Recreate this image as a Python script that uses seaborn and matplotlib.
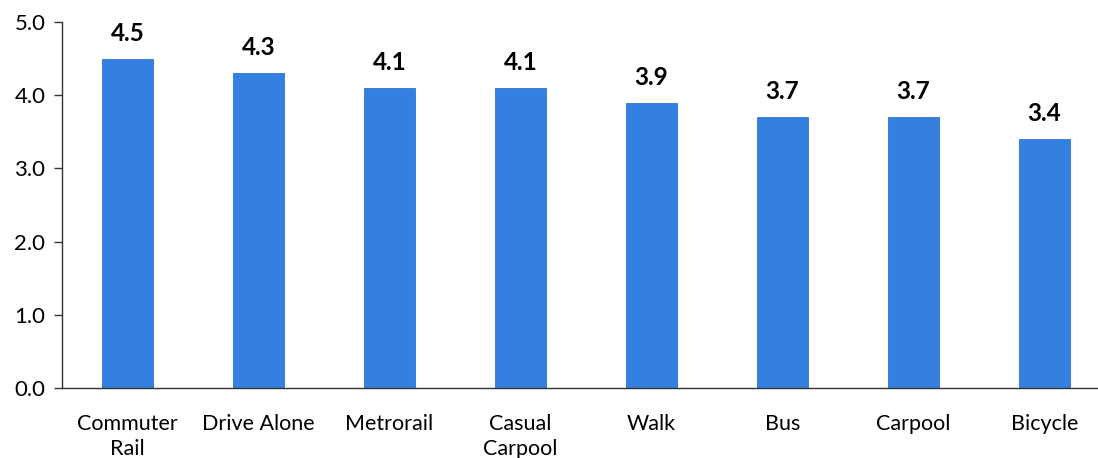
import pandas as pd
import matplotlib.pyplot as plt
import seaborn as sns
from matplotlib.ticker import MultipleLocator, FixedLocator, NullFormatter

# data
modes = ["Commuter\nRail", "Drive Alone", "Metrorail", "Casual\nCarpool",
         "Walk", "Bus", "Carpool", "Bicycle"]
ratings = [4.5, 4.3, 4.1, 4.1, 3.9, 3.7, 3.7, 3.4]

df = pd.DataFrame({"mode": modes, "rating": ratings})

sns.set_theme(style="white")
plt.rcParams["font.family"] = ["Lato", "DejaVu Sans"]

fig = plt.figure(figsize=(10.98, 4.58), dpi=100)
ax = fig.add_axes([62 / 1098, 1 - 388 / 458, 1048 / 1098, 366 / 458])

sns.barplot(data=df, x="mode", y="rating", color="#3380e0", width=0.39,
            edgecolor="#2f74d0", linewidth=0.6, saturation=1, ax=ax)

for i, v in enumerate(ratings):
    ax.text(i, v + 0.19, f"{v:.1f}", ha="center", va="bottom",
            fontsize=17.5, fontweight="bold", color="black")

ax.set_xlim(-0.5, len(modes) - 0.5)
ax.set_ylim(0, 5)
ax.yaxis.set_major_locator(MultipleLocator(1))
ax.set_yticklabels([f"{t:.1f}" for t in ax.get_yticks()])
ax.set_xlabel("")
ax.set_ylabel("")

# ticks between categories
ax.xaxis.set_minor_locator(FixedLocator([i - 0.5 for i in range(len(modes) + 1)]))
ax.xaxis.set_minor_formatter(NullFormatter())
ax.tick_params(axis="x", which="major", length=0, labelsize=15.5, pad=19, colors="black")
ax.tick_params(axis="x", which="minor", length=6, width=1, color="#333333", direction="out")
ax.tick_params(axis="y", which="major", length=6, width=1, color="#333333",
               direction="out", labelsize=16, pad=6, labelcolor="black")
ax.tick_params(bottom=True, left=True)
for lbl in ax.get_xticklabels():
    lbl.set_linespacing(1.3)

for s in ["top", "right"]:
    ax.spines[s].set_visible(False)
for s in ["left", "bottom"]:
    ax.spines[s].set_color("#333333")
    ax.spines[s].set_linewidth(1)

fig.savefig("out.png", dpi=100)
